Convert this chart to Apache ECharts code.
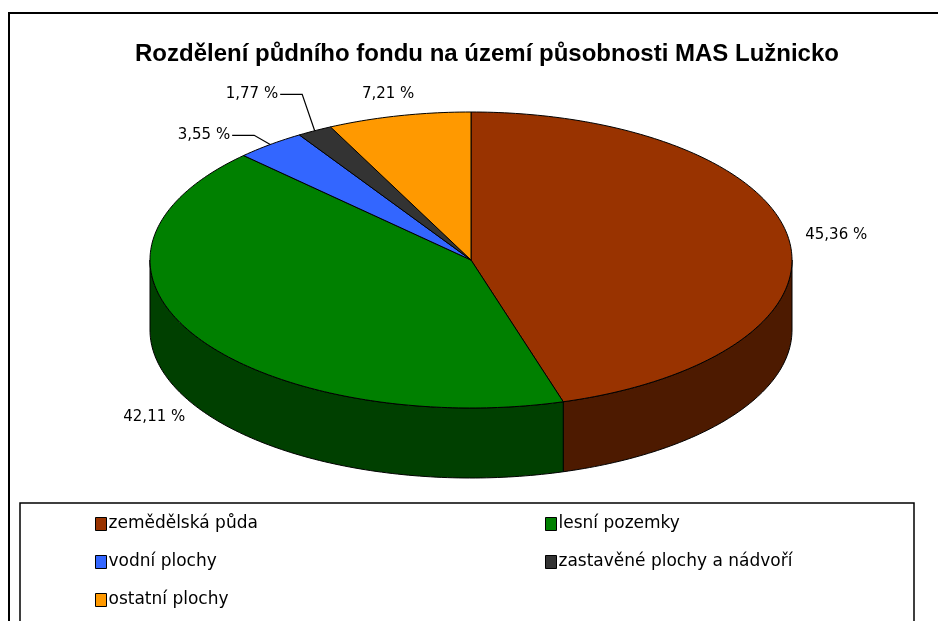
<!DOCTYPE html>
<html lang="cs">
<head>
<meta charset="utf-8">
<title>Rozdělení půdního fondu</title>
<script src="https://cdn.jsdelivr.net/npm/echarts@6/dist/echarts.min.js"></script>
<style>
html, body { margin: 0; padding: 0; background: #fff; }
#main { width: 938px; height: 621px; }
</style>
</head>
<body>
<div id="main"></div>
<script>
// data
var categories = ['zemědělská půda', 'lesní pozemky', 'vodní plochy', 'zastavěné plochy a nádvoří', 'ostatní plochy'];
var values = [45.36, 42.11, 3.55, 1.77, 7.21];
var valueLabels = ['45,36 %', '42,11 %', '3,55 %', '1,77 %', '7,21 %'];

// colours: top face and darker side wall
var topColors = ['#993300', '#008000', '#3366FF', '#333333', '#FF9900'];
var sideColors = ['#4D1A00', '#004000', '#1A3380', '#1A1A1A', '#804D00'];

// 3d pie geometry
var CX = 471, CY = 260, RX = 321, RY = 148, DEPTH = 70;
var LABEL_FONT = '15px "DejaVu Sans"';

var total = values.reduce(function (a, b) { return a + b; }, 0);

function sliceAngles(i) {
    var s = 0;
    for (var j = 0; j < i; j++) s += values[j];
    return [s / total * Math.PI * 2, (s + values[i]) / total * Math.PI * 2];
}

// angle measured clockwise from 12 o'clock
function pt(a, k, dy) {
    return [CX + RX * k * Math.sin(a), CY - RY * k * Math.cos(a) + (dy || 0)];
}

function arcPoints(a0, a1, dy) {
    var n = Math.max(2, Math.ceil((a1 - a0) / (Math.PI / 180)));
    var pts = [];
    for (var i = 0; i <= n; i++) pts.push(pt(a0 + (a1 - a0) * i / n, 1, dy));
    return pts;
}

function textEl(x, y, text, align) {
    return {
        type: 'text', x: x, y: y,
        style: {
            text: text, font: LABEL_FONT, fill: '#000',
            align: align, verticalAlign: 'middle',
            textAlign: align, textVerticalAlign: 'middle'
        }
    };
}

function renderSide(params, api) {
    var i = params.dataIndex;
    var a = sliceAngles(i);
    // only the front half (3 o'clock to 9 o'clock) is visible
    var s = Math.max(a[0], Math.PI / 2), e = Math.min(a[1], Math.PI * 1.5);
    if (e <= s) return { type: 'group', children: [] };
    var pts = arcPoints(s, e, 0).concat(arcPoints(s, e, DEPTH).reverse());
    return {
        type: 'polygon',
        shape: { points: pts },
        style: { fill: sideColors[i], stroke: '#000', lineWidth: 1 }
    };
}

function renderTop(params, api) {
    var i = params.dataIndex;
    var a = sliceAngles(i);
    var pts = [[CX, CY]].concat(arcPoints(a[0], a[1], 0));
    var children = [{
        type: 'polygon',
        shape: { points: pts },
        style: { fill: topColors[i], stroke: '#000', lineWidth: 1 }
    }];
    var m = (a[0] + a[1]) / 2;
    if (api.value(0) >= 5) {
        var p = pt(m, 1.15, Math.cos(m) < 0 ? DEPTH : 0);
        children.push(textEl(p[0], p[1], valueLabels[i], 'center'));
    } else {
        // small slices: leader line, labels stacked upwards
        var rank = 0;
        for (var j = 0; j < i; j++) if (values[j] < 5) rank++;
        var edge = pt(m, 1);
        var elbow = pt(m, 1.08);
        elbow[1] -= 26 * rank;
        var end = [elbow[0] - 22, elbow[1]];
        children.push({
            type: 'polyline',
            shape: { points: [edge, elbow, end] },
            style: { stroke: '#000', lineWidth: 1.2, fill: null }
        });
        children.push(textEl(end[0] - 2, end[1], valueLabels[i], 'right'));
    }
    return { type: 'group', children: children };
}

var chart = echarts.init(document.getElementById('main'));

var series = [
    { name: 'sides', type: 'custom', coordinateSystem: 'none', renderItem: renderSide, data: values, z: 2, silent: true },
    { name: 'tops', type: 'custom', coordinateSystem: 'none', renderItem: renderTop, data: values, z: 3, silent: true }
];
// legend entries
categories.forEach(function (c, i) {
    series.push({ name: c, type: 'custom', coordinateSystem: 'none', renderItem: function () { return null; }, data: [], itemStyle: { color: topColors[i] } });
});

var legendBase = {
    orient: 'vertical',
    icon: 'rect',
    itemWidth: 11,
    itemHeight: 13,
    itemGap: 18,
    padding: 0,
    height: 140,
    selectedMode: false,
    itemStyle: { borderColor: '#000', borderWidth: 1 },
    textStyle: { fontFamily: 'DejaVu Sans', fontSize: 17, lineHeight: 20, color: '#000', padding: [0, 0, 0, -3] },
    z: 10
};

chart.setOption({
    animation: false,
    backgroundColor: '#fff',
    title: {
        text: 'Rozdělení půdního fondu na území působnosti MAS Lužnicko',
        left: 482,
        textAlign: 'center',
        top: 37,
        textStyle: { fontFamily: 'Liberation Sans', fontWeight: 'bold', fontSize: 24, color: '#000' }
    },
    legend: [
        Object.assign({}, legendBase, { left: 95, top: 514, data: [categories[0], categories[2], categories[4]] }),
        Object.assign({}, legendBase, { left: 545, top: 514, data: [categories[1], categories[3]] })
    ],
    graphic: [
        { type: 'rect', z: 0, shape: { x: 9, y: 13, width: 1000, height: 700 }, style: { fill: 'none', stroke: '#000', lineWidth: 2 } },
        { type: 'rect', z: 1, shape: { x: 20, y: 503, width: 894, height: 200 }, style: { fill: '#fff', stroke: '#000', lineWidth: 1.5 } }
    ],
    series: series
});
</script>
</body>
</html>
